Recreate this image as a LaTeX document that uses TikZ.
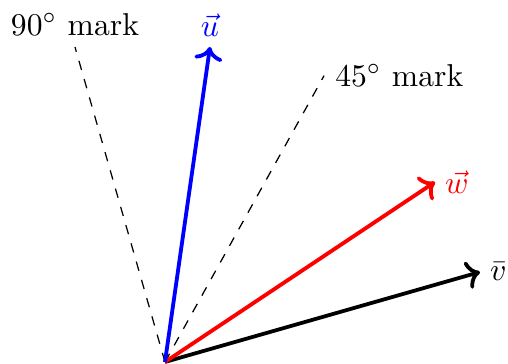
\documentclass[tikz,border=0pt]{standalone}
\usepackage{amsmath,amssymb}
\usepackage{tikz}
\usetikzlibrary{calc}
\usetikzlibrary{arrows.meta, positioning}

\begin{document}
\begin{tikzpicture}[
    % vector arrows and angle guides
    vec_arrow/.style={->, very thick},
    mark_line/.style={dashed, draw=black},
    vec_label/.style={inner sep=3pt}
]
    \useasboundingbox (-1.833,-0.022) rectangle (3.811,4.022);

    % --- 1. ORIGIN AND VECTOR TIPS ---
    \coordinate (o) at (0,0);
    \coordinate (v) at (3.5,1);
    \coordinate (w) at (3,2);
    \coordinate (u) at (0.5,3.5);

    % --- 2. ANGLE MARKS (relative to v) ---
    \coordinate (m90) at ($(o)!1!90:(v)$);
    \coordinate (m45) at ($(o)!1!45:(v)$);
    \draw[mark_line] (o) -- (m90);
    \draw[mark_line] (o) -- (m45);
    \node[above] (m90lab) at (m90) {$90^\circ$ mark};
    \node[right] (m45lab) at (m45) {$45^\circ$ mark};

    % --- 3. VECTORS ---
    \draw[vec_arrow, draw=black] (o) -- (v);
    \draw[vec_arrow, draw=red] (o) -- (w);
    \draw[vec_arrow, draw=blue] (o) -- (u);
    \node[vec_label, right] (vlab) at (v) {$\bar{v}$};
    \node[vec_label, right, text=red] (wlab) at (w) {$\vec{w}$};
    \node[vec_label, above, text=blue] (ulab) at (u) {$\vec{u}$};

\end{tikzpicture}
\end{document}
